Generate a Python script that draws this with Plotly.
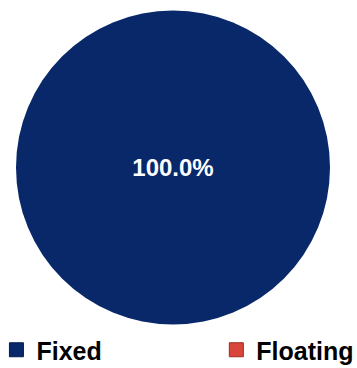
import plotly.graph_objects as go

labels = ["Fixed", "Floating"]
values = [100, 0]
colors = ["#08286A", "#D9453A"]
edge_colors = ["#051a48", "#9e2a22"]
texts = ["100.0%", ""]
legend_ids = ["legend", "legend2"]

W, H = 357, 368
dom = dict(x=[16 / W, 330 / W], y=[1 - 325 / H, 1 - 10 / H])

fig = go.Figure()
fig.add_trace(go.Pie(
    labels=labels,
    values=values,
    text=texts,
    textinfo="text",
    textposition="inside",
    insidetextorientation="horizontal",
    textfont=dict(family="Liberation Sans", size=24, color="white", weight="bold"),
    marker=dict(colors=colors, line=dict(width=0)),
    sort=False,
    direction="clockwise",
    showlegend=False,
    domain=dom,
))

# legend entries (one per category), each in its own legend box
for lab, col, ec, lg in zip(labels, colors, edge_colors, legend_ids):
    fig.add_trace(go.Scatter(
        x=[None], y=[None], mode="markers", name=lab,
        marker=dict(symbol="square", size=14, color=col, line=dict(color=ec, width=1)),
        legend=lg, showlegend=True, hoverinfo="skip",
    ))

leg_font = dict(family="Liberation Sans", size=25, color="black", weight="bold")
fig.update_layout(
    width=W, height=H,
    margin=dict(l=0, r=0, t=0, b=0, autoexpand=False),
    paper_bgcolor="white",
    plot_bgcolor="white",
    xaxis=dict(visible=False),
    yaxis=dict(visible=False),
    legend=dict(x=-0.01, xanchor="left", y=1 - 350 / H, yanchor="middle",
                font=leg_font, itemwidth=30, bgcolor="rgba(0,0,0,0)"),
    legend2=dict(x=0.606, xanchor="left", y=1 - 350 / H, yanchor="middle",
                 font=leg_font, itemwidth=30, bgcolor="rgba(0,0,0,0)"),
)

fig.write_html("out.html")
